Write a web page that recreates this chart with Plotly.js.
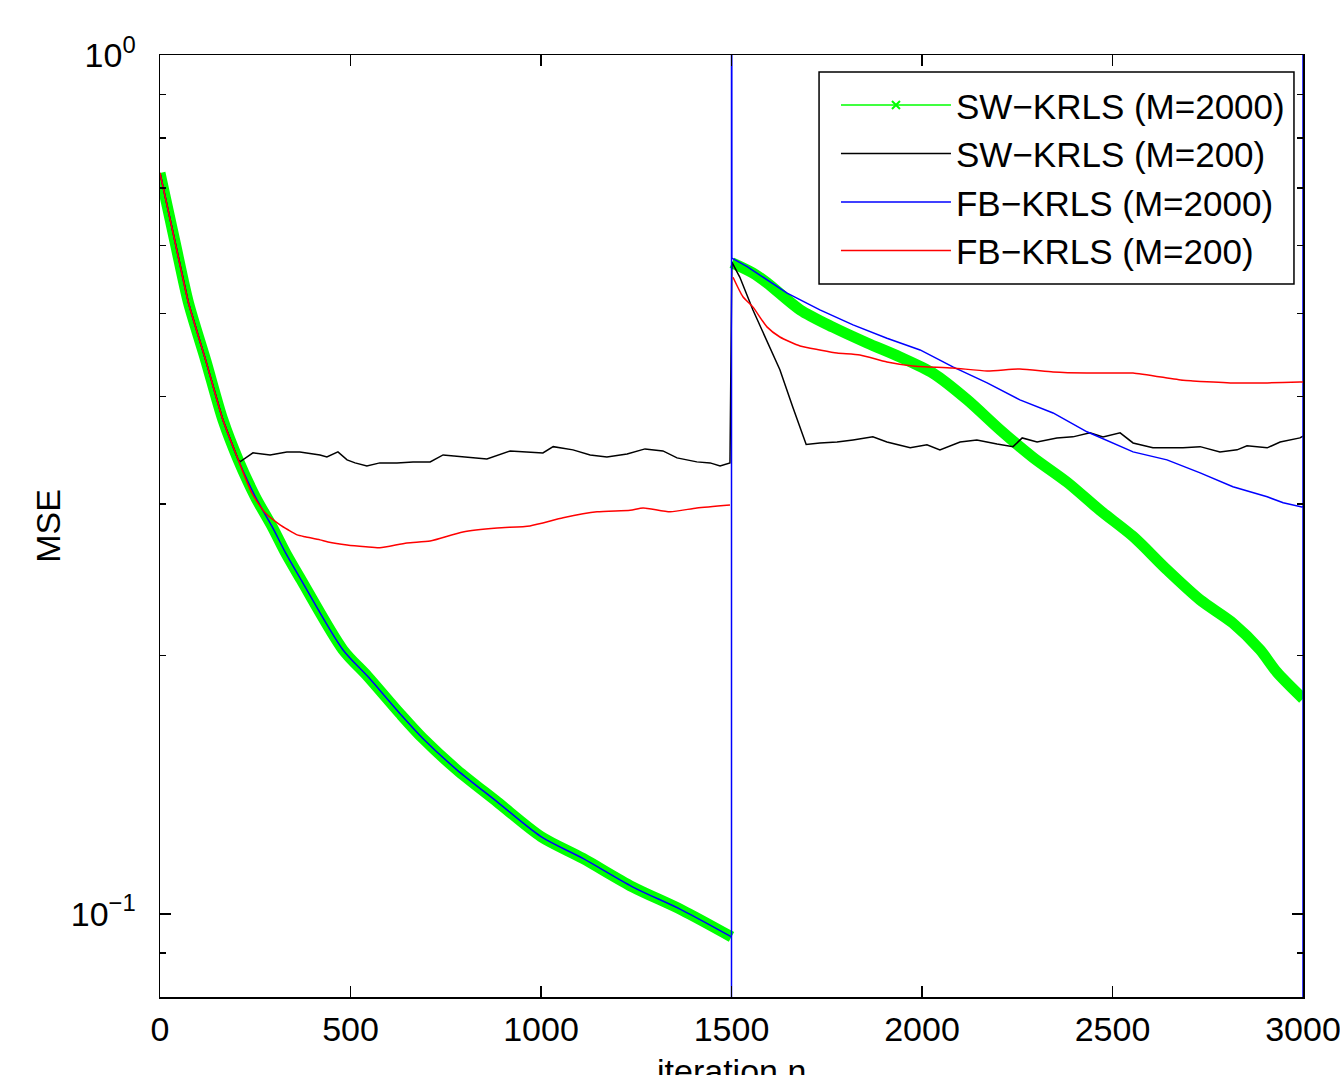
<!DOCTYPE html>
<html>
<head>
<meta charset="utf-8">
<script src="https://cdn.plot.ly/plotly-3.0.1.min.js"></script>
<style>html,body{margin:0;padding:0;background:#fff;}#chart{width:1340px;height:1075px;}</style>
</head>
<body>
<div id="chart"></div>
<script>
// ---- Data ----
// SW-KRLS (M=2000)
const swBigN = [0,40,75,120,165,205,250,295,330,370,480,545,630,690,780,885,1000,1110,1240,1370,1500,
  null,
  1501,1556,1593,1680,1766,1856,1942,2029,2118,2205,2291,2381,2467,2554,2643,2730,2816,2887,2932,3000];
const swBigMSE = [0.729,0.604,0.514,0.441,0.376,0.338,0.306,0.282,0.263,0.245,0.203,0.189,0.171,0.160,0.147,0.135,0.123,0.116,0.1075,0.101,0.094,
  null,
  0.573,0.5575,0.543,0.505,0.482,0.462,0.445,0.426,0.397,0.366,0.340,0.318,0.295,0.275,0.2515,0.232,0.218,0.203,0.191,0.178];

// SW-KRLS (M=200)
const swSmallN = [0,40,75,120,165,205,210,244,289,333,367,420,438,467,491,512,543,577,622,664,709,743,795,858,919,971,1005,1032,1084,1129,1173,1226,1273,1320,1357,1409,1444,1470,1496,
  1501,1522,1556,1583,1627,1661,1680,1696,1732,1777,1819,1871,1908,1969,2013,2047,2100,2144,2197,2239,2263,2302,2354,2396,2441,2475,2520,2554,2606,2685,2730,2782,2827,2853,2906,2940,2992,3000];
const swSmallMSE = [0.729,0.604,0.514,0.441,0.376,0.338,0.336,0.3441,0.3422,0.345,0.345,0.3422,0.3404,0.345,0.3377,0.335,0.3323,0.335,0.335,0.3359,0.3359,0.3422,0.3404,0.3386,0.3459,0.345,0.3441,0.3499,0.3469,0.3422,0.3404,0.3431,0.3478,0.3459,0.3395,0.3359,0.335,0.3323,0.335,
  0.574,0.551,0.505,0.4746,0.430,0.389,0.369,0.352,0.3534,0.3543,0.3563,0.3592,0.3543,0.3488,0.3516,0.3469,0.3543,0.3563,0.3524,0.3499,0.3582,0.3543,0.3582,0.3592,0.3631,0.3592,0.3631,0.3534,0.3488,0.3488,0.3499,0.345,0.3469,0.3507,0.3488,0.3543,0.3582,0.36];

// FB-KRLS (M=2000), first run (n <= 1500)
const fbBigN1 = [0,40,75,120,165,205,250,295,330,370,480,545,630,690,780,885,1000,1110,1240,1370,1500];
const fbBigMSE1 = [0.729,0.604,0.514,0.441,0.376,0.338,0.306,0.282,0.263,0.245,0.203,0.189,0.171,0.160,0.147,0.135,0.123,0.116,0.1075,0.101,0.094];
// FB-KRLS (M=2000), from n = 1500 on (the series jumps off-scale at n=1500 and n=3000)
const fbBigN2 = [1500,1500,1500,1500,
  1501,1541,1601,1646,1732,1819,1908,1995,2081,2171,2257,2344,2433,2520,2554,2643,2730,2816,2906,2948,2992,3000,3000,3000];
const fbBigMSE2 = [0.094,0.01,10,0.58,
  0.580,0.567,0.544,0.528,0.505,0.485,0.468,0.4535,0.4333,0.4151,0.3967,0.383,0.3641,0.3499,0.345,0.3377,0.3261,0.3142,0.3059,0.301,0.2978,0.2975,10,0.01];

// FB-KRLS (M=200)
const fbSmallN = [0,40,75,120,165,205,241,276,315,336,360,381,420,441,491,540,577,648,709,795,885,971,1058,1147,1234,1268,1339,1409,1496,
  null,
  1504,1530,1556,1593,1627,1680,1732,1777,1837,1908,1976,2081,2171,2257,2344,2433,2520,2554,2685,2711,2816,2906,2992,3000];
const fbSmallMSE = [0.729,0.604,0.514,0.441,0.376,0.338,0.309,0.293,0.2837,0.280,0.2762,0.2748,0.2725,0.271,0.2688,0.2675,0.2668,0.2703,0.2717,0.2784,0.2814,0.2829,0.2891,0.2938,0.295,0.2969,0.2938,0.2969,0.2993,
  null,
  0.551,0.523,0.509,0.4824,0.4695,0.4583,0.4535,0.4498,0.4474,0.4391,0.4345,0.4321,0.4286,0.4309,0.4275,0.4263,0.4263,0.4263,0.418,0.4173,0.4151,0.4151,0.4162,0.4162];

const seriesNames = ['SW\u2212KRLS (M=2000)','SW\u2212KRLS (M=200)','FB\u2212KRLS (M=2000)','FB\u2212KRLS (M=200)'];
const xTitle = 'iteration n';
const yTitle = 'MSE';
const xTicks = [0,500,1000,1500,2000,2500,3000];
const yTicks = [0.1,1];
const yTickText = ['10<sup>\u22121</sup>','10<sup>0</sup>'];
const yMinor = [0.08,0.09,0.2,0.3,0.4,0.5,0.6,0.7,0.8,0.9];

// ---- Chart ----
const FONT = 'Liberation Sans, Arial, Helvetica, sans-serif';
const traces = [
  {x: swBigN, y: swBigMSE, mode:'lines', line:{color:'#00ff00', width:11, shape:'spline', smoothing:0.8}, showlegend:false, connectgaps:false, hoverinfo:'skip'},
  {x:[null], y:[null], mode:'lines+markers', name:seriesNames[0], line:{color:'#00ff00', width:1.5},
   marker:{symbol:'x-thin-open', size:8, color:'#00ff00', line:{color:'#00ff00', width:2}}},
  {x: swSmallN, y: swSmallMSE, mode:'lines', name:seriesNames[1], line:{color:'#000000', width:1.5}},
  {x: fbBigN1, y: fbBigMSE1, mode:'lines', name:seriesNames[2], legendgroup:'fb2000', line:{color:'#0000ff', width:1.5, shape:'spline', smoothing:0.8}},
  {x: fbBigN2, y: fbBigMSE2, mode:'lines', name:seriesNames[2], legendgroup:'fb2000', showlegend:false, line:{color:'#0000ff', width:1.5}},
  {x: fbSmallN, y: fbSmallMSE, mode:'lines', name:seriesNames[3], line:{color:'#ff0000', width:1.5, shape:'spline', smoothing:0.6}, connectgaps:false}
];

const layout = {
  width:1340, height:1075,
  margin:{l:160, r:37, t:55, b:78, pad:0},
  paper_bgcolor:'#ffffff', plot_bgcolor:'#ffffff',
  font:{family:FONT, size:34, color:'#000'},
  showlegend:true,
  legend:{x:0.5914, y:0.978, xanchor:'left', yanchor:'top', bgcolor:'rgba(0,0,0,0)', borderwidth:0,
          font:{family:FONT, size:35, color:'#000'}, itemwidth:110, traceorder:'normal', tracegroupgap:0},
  shapes:[{type:'rect', xref:'paper', yref:'paper', x0:0.5766, x1:0.9921, y0:0.7569, y1:0.9820,
           line:{color:'#000', width:1.5}, fillcolor:'#ffffff', layer:'above'}],
  annotations:[{text:xTitle, xref:'paper', yref:'paper', x:0.5, y:(997-1050)/942, xanchor:'center', yanchor:'top',
                showarrow:false, font:{family:FONT, size:34, color:'#000'}}],
  xaxis:{range:[0,3000], tickmode:'array', tickvals:xTicks, ticks:'inside', ticklen:11, tickwidth:1.5, tickcolor:'#000',
         mirror:'ticks', showline:true, linecolor:'#000', linewidth:1.5, showgrid:false, zeroline:false,
         tickfont:{family:FONT, size:34, color:'#000'}, ticklabelstandoff:2, ticklabeloverflow:'allow'},
  yaxis:{type:'log', range:[Math.log10(0.08), 0], tickmode:'array', tickvals:yTicks, ticktext:yTickText,
         ticks:'inside', ticklen:11, tickwidth:1.5, tickcolor:'#000',
         mirror:'ticks', showline:true, linecolor:'#000', linewidth:1.5, showgrid:false, zeroline:false,
         tickfont:{family:FONT, size:34, color:'#000'}, ticklabelstandoff:16, ticklabeloverflow:'allow',
         minor:{tickmode:'array', tickvals:yMinor, ticks:'inside', ticklen:6, tickwidth:1.5, tickcolor:'#000', showgrid:false},
         title:{text:yTitle, font:{family:FONT, size:34, color:'#000'}, standoff:0}}
};

Plotly.newPlot('chart', traces, layout, {displayModeBar:false, staticPlot:true});
</script>
</body>
</html>
